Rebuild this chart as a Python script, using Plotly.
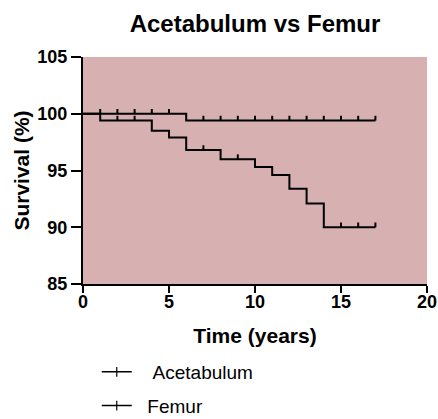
import numpy as np
import plotly.graph_objects as go

# Data
acet_times = [0, 6]
acet_surv = [100, 99.4]
acet_end = 17
acet_censor = [1, 2, 3, 4, 5, 7, 8, 9, 10, 11, 12, 13, 14, 15, 16, 17]

fem_times = [0, 1, 4, 5, 6, 8, 10, 11, 12, 13, 14]
fem_surv = [100, 99.4, 98.5, 97.9, 96.8, 96.0, 95.3, 94.6, 93.4, 92.1, 90.0]
fem_end = 17
fem_censor = [2, 3, 7, 9, 15, 16, 17]

series = [
    ("\u00a0\u00a0\u00a0Acetabulum", acet_times, acet_surv, acet_end, acet_censor),
    ("\u00a0\u00a0Femur", fem_times, fem_surv, fem_end, fem_censor),
]

FONT = "Liberation Sans, Arial, sans-serif"
TICK_H = 0.42

fig = go.Figure()
for i, (name, t, s, end, cens) in enumerate(series):
    xs = list(t) + [end]
    ys = list(s) + [s[-1]]
    fig.add_trace(go.Scatter(x=xs, y=ys, mode="lines", line=dict(color="black", width=2, shape="hv"),
                             showlegend=False, hoverinfo="skip"))
    t_arr = np.array(t)
    cx, cy = [], []
    for c in cens:
        idx = np.searchsorted(t_arr, c, side="right") - 1
        v = s[idx]
        cx += [c, c, None]
        cy += [v, v + TICK_H, None]
    fig.add_trace(go.Scatter(x=cx, y=cy, mode="lines", line=dict(color="black", width=2),
                             showlegend=False, hoverinfo="skip"))
    # legend entry
    fig.add_trace(go.Scatter(x=[None], y=[None], mode="lines+markers", name=name,
                             line=dict(color="black", width=1.5),
                             marker=dict(symbol="line-ns-open", size=7, color="black",
                                         line=dict(color="black", width=1.2)),
                             legendgroup=name))

fig.update_layout(
    width=438, height=419,
    margin=dict(l=83, r=11, t=57, b=135, autoexpand=False),
    paper_bgcolor="white",
    plot_bgcolor="#D7B1B1",
    title=dict(text="<b>Acetabulum vs Femur</b>", x=0.5, xref="paper", xanchor="center",
               y=1 - 24 / 419, yanchor="middle", font=dict(family=FONT, size=24, color="black")),
    font=dict(family=FONT, color="black"),
    showlegend=True,
    legend=dict(x=0.04, y=1 - 353 / 419, xref="paper", yref="container", xanchor="left", yanchor="top",
                orientation="v", itemwidth=30,
                font=dict(family=FONT, size=19, color="black"), tracegroupgap=6,
                bgcolor="rgba(0,0,0,0)"),
)
fig.update_xaxes(range=[0, 20], tickvals=[0, 5, 10, 15, 20], ticktext=["<b>%d</b>" % v for v in [0, 5, 10, 15, 20]],
                 showgrid=False, zeroline=False, showline=True, linecolor="black", linewidth=2,
                 ticks="outside", ticklen=7, tickwidth=2, tickcolor="black", automargin=False,
                 ticklabelstandoff=-7,
                 tickfont=dict(family=FONT, size=18, color="black"),
                 title=dict(text="<b>Time (years)</b>", font=dict(family=FONT, size=21, color="black"), standoff=18))
fig.update_yaxes(range=[85, 105], tickvals=[85, 90, 95, 100, 105], ticktext=["<b>%d</b>" % v for v in [85, 90, 95, 100, 105]],
                 showgrid=False, zeroline=False, showline=True, linecolor="black", linewidth=2,
                 ticks="outside", ticklen=10, tickwidth=2, tickcolor="black", automargin=False,
                 tickfont=dict(family=FONT, size=18, color="black"),
                 title=dict(text="<b>Survival (%)</b>", font=dict(family=FONT, size=21, color="black"), standoff=2))

fig.write_html("out.html")
